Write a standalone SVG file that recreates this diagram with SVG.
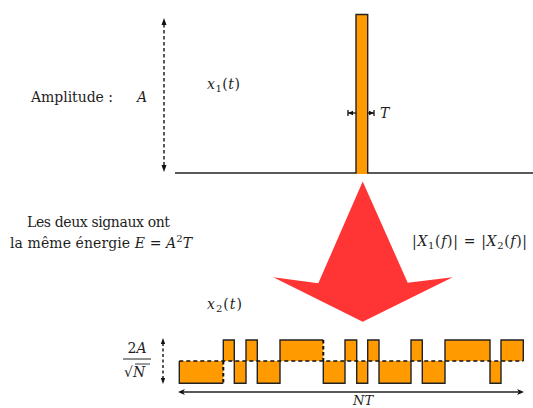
<svg xmlns="http://www.w3.org/2000/svg" width="533" height="408" viewBox="0 0 533 408">
<style>
.txt{font-family:"DejaVu Serif","Liberation Serif","Times New Roman",serif;font-size:14px;fill:#1e1e1e}
.it{font-style:italic}
.sub{font-size:10px}
.ln{stroke:#222;stroke-width:1.4;fill:none}
.dash{stroke:#111;stroke-width:1.4;stroke-dasharray:3.5 2.5;fill:none}
.org{fill:#FF9A00}
.ah{fill:#111}
</style>
<rect width="533" height="408" fill="#fff"/>

<g id="connectors">
  <line class="dash" x1="164" y1="24" x2="164" y2="166"/>
  <polygon class="ah" points="164,18 161.5,25 166.5,25"/>
  <polygon class="ah" points="164,172 161.5,165 166.5,165"/>
  <line class="dash" x1="163" y1="343" x2="163" y2="379" style="stroke-dasharray:3 2.5"/>
  <polygon class="ah" points="163,338 160.8,344 165.2,344"/>
  <polygon class="ah" points="163,384 160.8,378 165.2,378"/>
  <line class="ln" x1="182" y1="392" x2="520" y2="392"/>
  <polygon class="ah" points="178,392 185,389 183,392 185,395"/>
  <polygon class="ah" points="524,392 517,389 519,392 517,395"/>
  <line class="ln" x1="348" y1="113" x2="374" y2="113"/>
  <line class="ln" x1="348" y1="110" x2="348" y2="116"/>
  <line class="ln" x1="374" y1="110" x2="374" y2="116"/>
  <polygon class="ah" points="348,113 353,110.8 353,115.2"/>
  <polygon class="ah" points="374,113 369,110.8 369,115.2"/>
</g>

<g id="x1-signal">
  <line class="ln" x1="175" y1="173" x2="533" y2="173"/>
  <rect class="org" x="356" y="14.5" width="11.7" height="158.5"/>
  <path class="ln" d="M356,173 V14.5 H367.7 V173"/>
  <rect class="org" x="357" y="172" width="10" height="2"/>
</g>

<g id="big-arrow">
  <polygon fill="#FF3434" points="362.7,181.5 407.7,282.7 452.7,277.3 362.7,321.7 273.3,277.3 318.3,283.3"/>
</g>

<g id="x2-signal">
  <g class="org">
    <rect x="179.3" y="361" width="44" height="22.3"/>
    <rect x="234.3" y="361" width="11.7" height="22.3"/>
    <rect x="257.3" y="361" width="22.7" height="22.3"/>
    <rect x="323.3" y="361" width="21.7" height="22.3"/>
    <rect x="356.7" y="361" width="11" height="22.3"/>
    <rect x="379" y="361" width="32" height="22.3"/>
    <rect x="422.3" y="361" width="22.7" height="22.3"/>
    <rect x="490" y="361" width="11" height="22.3"/>
    <rect x="223.3" y="340" width="11" height="21"/>
    <rect x="246" y="340" width="11.3" height="21"/>
    <rect x="280" y="340" width="43.3" height="21"/>
    <rect x="345" y="340" width="11.7" height="21"/>
    <rect x="367.7" y="340" width="11.3" height="21"/>
    <rect x="411" y="340" width="11.3" height="21"/>
    <rect x="445" y="340" width="45" height="21"/>
    <rect x="501" y="340" width="22.3" height="21"/>
  </g>
  <path class="ln" d="M179.3,361 V383.3 H223.3"/>
  <path class="ln" d="M223.3,361 V340 H234.3 V383.3 H246 V340 H257.3 V383.3 H280 V340 H323.3"/>
  <path class="ln" d="M323.3,361 V383.3 H345 V340 H356.7 V383.3 H367.7 V340 H379 V383.3 H411 V340 H422.3 V383.3 H445 V340 H490 V383.3 H501 V340 H523.3 V361"/>
  <line class="dash" x1="223.3" y1="361" x2="223.3" y2="383.3" style="stroke-width:2"/>
  <line class="dash" x1="323.3" y1="340" x2="323.3" y2="361" style="stroke-width:2"/>
  <line class="dash" x1="179.3" y1="361" x2="523.3" y2="361" style="stroke-dasharray:4 3"/>
</g>

<g id="labels">
  <text class="txt" x="31" y="102" textLength="82">Amplitude :</text>
  <text class="txt it" x="137" y="102">A</text>
  <text class="txt" x="207" y="89" textLength="33"><tspan class="it">x</tspan><tspan class="sub" dy="3">1</tspan><tspan dy="-3">(</tspan><tspan class="it">t</tspan>)</text>
  <text class="txt it" x="380" y="118">T</text>
  <text class="txt" x="27" y="227" textLength="143">Les deux signaux ont</text>
  <text class="txt" x="10" y="248" textLength="182">la même énergie <tspan class="it">E</tspan> = <tspan class="it">A</tspan><tspan class="sub" dy="-6">2</tspan><tspan class="it" dy="6">T</tspan></text>
  <text class="txt" x="412" y="246" textLength="115">|<tspan class="it">X</tspan><tspan class="sub" dy="3">1</tspan><tspan dy="-3">(</tspan><tspan class="it">f</tspan>)| = |<tspan class="it">X</tspan><tspan class="sub" dy="3">2</tspan><tspan dy="-3">(</tspan><tspan class="it">f</tspan>)|</text>
  <text class="txt" x="207" y="309" textLength="35"><tspan class="it">x</tspan><tspan class="sub" dy="3">2</tspan><tspan dy="-3">(</tspan><tspan class="it">t</tspan>)</text>
  <text class="txt" x="137" y="353" text-anchor="middle">2<tspan class="it">A</tspan></text>
  <line class="ln" x1="123" y1="359" x2="151" y2="359" style="stroke-width:1"/>
  <text class="txt" x="124" y="377">√<tspan class="it">N</tspan></text>
  <line class="ln" x1="135" y1="364" x2="150" y2="364" style="stroke-width:0.9"/>
  <text class="txt it" x="353" y="405" style="font-size:13px">NT</text>
</g>
</svg>
